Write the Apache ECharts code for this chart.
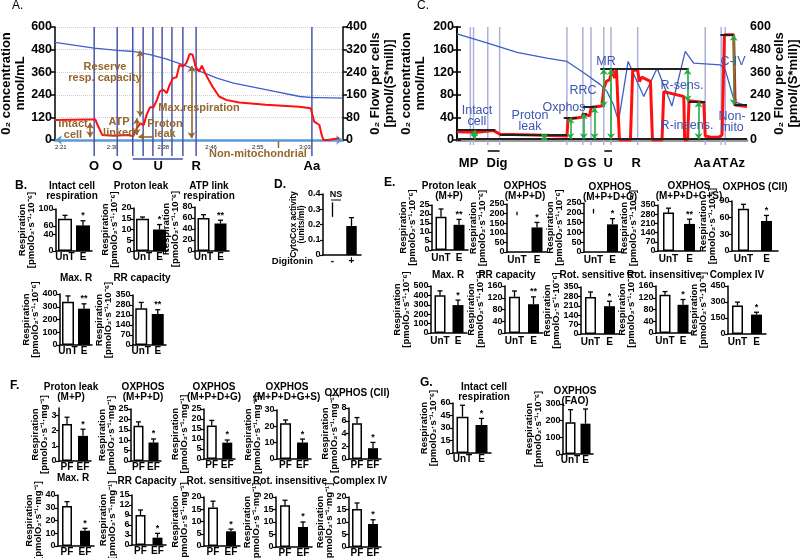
<!DOCTYPE html>
<html>
<head>
<meta charset="utf-8">
<script src="https://cdn.jsdelivr.net/npm/echarts@6/dist/echarts.min.js"></script>
<style>html,body{margin:0;padding:0;background:#fff;}#chart{width:800px;height:558px;}</style>
</head>
<body>
<div id="chart"></div>
<script>
// ================= DATA =================
// Panel A: O2 trace, intact cells (time in minutes since 0:00)
const A_o2Time = [140,146.8,150.8,153.6,156.5,159.4,162.3,165.2,168.1,171,176.8,182.5,184.8,186,190];
const A_o2Conc = [518,488,476,470,453,430,399,364,328,302,266,231,225,225,222];
const A_flowTime = [140,146.2,147,147.4,148.2,150.2,152.5,153.6,154.2,154.8,155.4,155.9,156.5,157.1,157.7,158.2,158.8,159.4,159.9,160.5,161.1,161.6,162.2,162.8,163.4,163.9,164.4,165,165.5,166.2,167.4,168.5,169.7,172,176.6,182.4,184.4,185,185.9,186.3,186.6,187.3,187.6,189.3];
const A_flow = [71,73,73,53,18,15,18,14,41,59,53,89,116,116,142,172,178,166,195,219,222,266,260,272,305,302,260,243,263,231,187,154,142,133,125,118,112,65,53,18,0,0,7,6];
const A_tickTimes = [141,150,158.8,167.1,175.2,183.4];
const A_tickLabels = ['2:21','2:30','2:38','2:46','2:55','3:03'];
const A_eventTimes = [146.8,150.8,153.5,155.3,157,158.6,160.3,162.2,164.5,184.6];
const A_eventLabelTimes = [146.8,150.8,157.9,164.5,184.6];
const A_eventLabels = ['O','O','U','R','Aa'];
const A_uncouplerSpan = [153.5,162.2];
const A_arrows = [[146.1,61,10],[154.2,77,18],[154.8,316,83],[163.7,262,6]];   // [time, from, to] in flow units
const A_leakArrow = [[154.5,12],[157.1,12]];
const A_nonMitoTime = 178.8;
const A_notes = ['Reserve\nresp. capacity','Intact\ncell','ATP\nlinked','Proton\nleak','Max.respiration','Non-mitochondrial'];

// Panel C: O2 trace, permeabilized cells (arbitrary time units)
const C_o2Time = [0,10.3,20.7,31,37.9,41.4,44.8,49.4,51.7,54,55.7,59,64.4,69,74.1,78.7,81.6,90.8,92.5,94.3,95.7,100];
const C_o2Conc = [188,172,155,145,139,127,115,98,86,62,33,139,77,127,60,157,136,133,124,92,68,60];
const C_flowTime = [0,6.9,12.6,14.9,26.4,37.9,38.3,43.1,43.5,45.7,46.3,50,50.6,51.5,52.6,53.6,54.3,55,55.5,56,59.8,60.6,62.3,62.9,63.7,66.7,67.4,70.7,71.3,78.2,78.5,79.5,80,85.1,85.6,87.9,90.2,91.4,92.2,95.4,95.9,100];
const C_flow = [44,41,50,30,27,21,112,121,138,128,174,181,275,311,320,373,329,376,376,0,0,373,369,311,334,311,0,0,257,231,0,0,208,199,21,14,14,27,559,559,186,178];
const C_eventTimes = [4.6,5.7,10.6,14.7,37.9,43.4,46.2,50.6,53.1,62.3,85.6,91.1,92.5];
const C_labelTimes = [4,13.8,38.5,43.1,46.6,52.1,61.8,84.5,90.8,96.6];
const C_labels = ['MP','Dig','D','G','S','U','R','Aa','AT','Az'];
const C_spans = [[10.6,14.7],[50.8,53.4]];
const C_levels = [[0,13.2,53],[14.9,37.9,27],[36.8,41.4,119],[43.1,44.8,142],[43.4,48.3,174],[49.4,79.9,378],[79.9,85.6,204],[90.8,95.4,559],[95.4,100,186],[0,100,4]]; // [from, to, flow level]
const C_arrows = [[6,53,4],[30.1,27,4],[39.1,119,4],[43.7,142,4],[47.4,174,4],[50.6,378,174],[53.1,378,4],[79.5,378,204],[83.3,204,4],[87.9,4,-35],[95.4,559,186]];
const C_notes = ['Intact\ncell','Proton\nleak','Oxphos','RRC','MR','R-sens.','R-insens.','C-IV','Non-\nmito'];

// Panel B
const B_titles = ['Intact cell\nrespiration','Proton leak','ATP link\nrespiration','Max. R','RR capacity'];
const B_groups = ['UnT','E'];
const B_untreated = [77, 15, 60, 340, 258];
const B_untreatedErr = [8, 0.8, 6, 45, 40];
const B_treated = [61, 10, 50, 285, 217];
const B_treatedErr = [11, 2.3, 6, 38, 30];
const B_sig = ['*','*','**','**','**'];
const B_yMax = [100, 20, 80, 400, 350];
const B_yStep = [20, 5, 20, 100, 70];

// Panel D
const D_groups = ['-','+'];
const D_activity = [0, 0.19];
const D_activityErr = [0, 0.055];
const D_minusMark = [0.25, 0.345];
const D_yMax = 0.4, D_yStep = 0.1;

// Panel E
const E_titles = ['Proton leak\n(M+P)','OXPHOS\n(M+P+D)','OXPHOS\n(M+P+D+G)','OXPHOS\n(M+P+D+G+S)','OXPHOS (CII)','Max. R','RR capacity','Rot. sensitive','Rot. insensitive','Complex IV'];
const E_untreated = [18.5, null, null, 292, 76, 402, 123, 276, 130, 267];
const E_untreatedErr = [4.3, 0, 0, 34, 8, 46, 20, 37, 11, 32];
const E_untreatedMark = [null, [192,210], [196,220], null, null, null, null, null, null, null];
const E_treated = [14, 128, 141, 206, 54, 297, 98, 207, 96, 182];
const E_treatedErr = [3, 26, 29, 36, 10, 53, 25, 37, 18, 22];
const E_sig = ['**','*','*','**','*','*','**','*','*','*'];
const E_yMax = [25, 250, 250, 350, 90, 500, 160, 350, 160, 450];
const E_yStep = [5, 50, 50, 70, 30, 100, 40, 70, 40, 150];

// Panel F
const F_titles = ['Proton leak\n(M+P)','OXPHOS\n(M+P+D)','OXPHOS\n(M+P+D+G)','OXPHOS\n(M+P+D+G+S)','OXPHOS (CII)','Max. R','RR Capacity','Rot. sensitive','Rot. insensitive','Complex IV'];
const F_groups = ['PF','EF'];
const F_pf = [2.44, 16.9, 16.8, 21.9, 5.6, 31.4, 9.0, 15.7, 16.7, 15.2];
const F_pfErr = [0.45, 1.9, 2.5, 2.0, 0.9, 3.4, 1.5, 2.6, 2.0, 2.4];
const F_ef = [1.66, 8.9, 8.2, 10.1, 1.7, 12, 2.2, 6.0, 8.0, 9.2];
const F_efErr = [0.44, 1.7, 1.3, 2.1, 0.9, 1.9, 1.3, 0.9, 2.0, 1.7];
const F_sig = ['*','*','*','*','*','*','*','*','*','*'];
const F_yMax = [3.5, 25, 25, 30, 8, 40, 15, 20, 20, 20];
const F_yStep = [1, 5, 5, 10, 2, 10, 3, 5, 5, 5];

// Panel G
const G_titles = ['Intact cell\nrespiration','OXPHOS\n(FAO)'];
const G_untreated = [43.5, 190];
const G_untreatedErr = [13.8, 76];
const G_treated = [33.6, 182];
const G_treatedErr = [7.9, 88];
const G_sig = ['*',''];
const G_yMax = [60, 300];
const G_yStep = [15, 100];

// ================= LAYOUT (positions / sizes) =================
// [left(y-axis x), top(px of max), zero(px of 0), width, barWidth, labelMargin]
const B_layout = [[56,209,251,36,14,1],[134,208,251,34,13,1],[195,207,251,34,12,1],[60,294,345,32,12,1],[133,295,345,33,12,1]];
const B_titleXY = [[72,191],[141,186],[209,191],[76,278],[142,278]];
const D_layout = [323,194,255,38,10.5,1.5];
const E_layout = [[432,205,250,36,11,3],[507,204,252,40,11,3],[584,203,252,38,11,3],[658,205,251,42,11,3],[732,201,251,46,11,3],
                  [431,286,333,36,11,3],[505,286,333,38,11,3],[581,287,334,38,11,3],[656,286,333,36,11,3],[728,286,334,38,11,3]];
const E_titleXY = [[449,191],[525,191],[610,192],[689,191],[755,187],[448,275],[507,275],[592,275],[664,275],[737,275]];
const F_layout = [[59,408,461,32,10,1],[131,409,461,30,10,1],[204,409,459,31,10,1],[277,410,459,34,11,1],[349,408,459,32,10,1],
                  [58,495,546,36,10,1],[132,495,545,34,10,1],[204,497,546,36,10,1],[276,497,547,36,10,1],[349,497,547,32,10,1]];
const F_titleXY = [[71,392],[143,392],[214,392],[287,392],[357,393],[73,478],[147,481],[219,481],[290,481],[360,481]];
const G_layout = [[453,403,453,38,12,1],[563,404,454,30,10,1]];
const G_titleXY = [[484,392],[575,396]];

const FONT = '"Liberation Sans", Arial, Helvetica, sans-serif';
const BROWN = '#94672f';
const CBLUE = '#3a56b0';
const RESP6 = 'Respiration\n[pmolO\u2082\u00b7s\u207b\u00b9\u00b710\u207b\u2076]';
const RESPMG = 'Respiration\n[pmolO\u2082\u00b7s\u207b\u00b9\u00b7mg\u207b\u00b9]';

const grids = [], xAxes = [], yAxes = [], series = [], texts = [];

function txt(x, y, text, size, weight, color, align, lh) {
  texts.push({type:'text', x:x, y:y, z:50, silent:true,
    style:{text:text, fill:color||'#000', fontSize:size, fontWeight:weight||'normal', fontFamily:FONT,
      align:align||'center', verticalAlign:'middle', lineHeight:lh||size+1}});
}
function makeTicks(max, step){ const t=[]; for(let i=0;i*step<=max+1e-9;i++) t.push(Math.round(i*step*1e6)/1e6); return t; }

function barPanel(o) {
  const [left, top, zero, width, bw, lm] = o.lay;
  const gi = grids.length;
  grids.push({left:left, top:top, width:width, height:zero-top, outerBoundsMode:'none'});
  const xi = xAxes.length, yi = yAxes.length;
  xAxes.push({gridIndex:gi, type:'category', data:o.cats,
    axisLine:{show:true, onZero:false, lineStyle:{color:'#000', width:1.5}}, axisTick:{show:false},
    axisLabel:{interval:0, margin:lm, color:'#000', fontFamily:FONT, fontWeight:'bold', fontSize:10},
    splitLine:{show:false}});
  const ticks = makeTicks(o.max, o.step);
  const maxW = Math.max(...ticks.map(v => String(v).replace('.','').length*5 + (String(v).indexOf('.')>=0?2.5:0)));
  yAxes.push({gridIndex:gi, type:'value', min:0, max:o.max, interval:o.step,
    axisLine:{show:true, lineStyle:{color:'#000', width:1.5}},
    axisTick:{show:true, length:3, lineStyle:{color:'#000', width:1.2}, customValues:ticks},
    axisLabel:{customValues:ticks, margin:2.5, color:'#000', fontFamily:FONT, fontWeight:'bold', fontSize:9, showMaxLabel:true, showMinLabel:true},
    splitLine:{show:false},
    name:o.yName, nameLocation:'middle', nameRotate:90, nameGap:maxW+5, nameMoveOverlap:false,
    nameTextStyle:{color:'#000', fontFamily:FONT, fontWeight:'bold', fontSize:o.nameSize||9.5, lineHeight:(o.nameSize||9.5)-0.5}});
  const barData = o.vals.map((v,i) => v==null ? null : {value:v,
    itemStyle: o.fill[i]==='w' ? {color:'#fff', borderColor:'#000', borderWidth:1.5} : {color:'#000', borderWidth:0}});
  series.push({type:'bar', xAxisIndex:xi, yAxisIndex:yi, data:barData, barWidth:bw, silent:true, z:3, animation:false});
  const eb = [];
  o.vals.forEach((v,i) => { if (v!=null && o.errs[i]) eb.push([i, v, v+o.errs[i], 1, i]); });
  (o.marks||[]).forEach(m => { if (m) eb.push([m[0], m[1], m[2], 0, -1]); });
  const sigs = o.sigs;
  series.push({type:'custom', xAxisIndex:xi, yAxisIndex:yi, data:eb, z:4, silent:true, animation:false,
    renderItem:(params, api) => {
      const x = api.value(0), lo = api.value(1), hi = api.value(2), cap = api.value(3), si = api.value(4);
      const p0 = api.coord([x, lo]), p1 = api.coord([x, hi]);
      const ch = [{type:'line', shape:{x1:p0[0], y1:p0[1], x2:p1[0], y2:p1[1]}, style:{stroke:'#000', lineWidth:1.3}}];
      if (cap) ch.push({type:'line', shape:{x1:p1[0]-2.5, y1:p1[1], x2:p1[0]+2.5, y2:p1[1]}, style:{stroke:'#000', lineWidth:1.3}});
      const s = si >= 0 ? (sigs[si]||'') : '';
      if (s) ch.push({type:'text', x:p1[0], y:p1[1]-0.5, style:{text:s, fill:'#000', fontSize:9, fontWeight:'bold', fontFamily:FONT, align:'center', verticalAlign:'bottom'}});
      return {type:'group', children:ch};
    }});
  return {gi, xi, yi};
}

// ---- Panel B ----
B_titles.forEach((t,i) => {
  barPanel({lay:B_layout[i], cats:B_groups, vals:[B_untreated[i], B_treated[i]], errs:[B_untreatedErr[i], B_treatedErr[i]],
    fill:['w','b'], sigs:['', B_sig[i]], max:B_yMax[i], step:B_yStep[i], yName:RESP6});
  txt(B_titleXY[i][0], B_titleXY[i][1], t, 10, 'bold', '#000', 'center', 9.5);
});
// ---- Panel D ----
const dP = barPanel({lay:D_layout, cats:D_groups, vals:D_activity, errs:D_activityErr, fill:['b','b'], sigs:['',''],
  marks:[[0, D_minusMark[0], D_minusMark[1]]], max:D_yMax, step:D_yStep, yName:'CytoCox activity\n(units/ml)', nameSize:8.5});
txt(313, 261, 'Digitonin', 9.5, 'bold', '#000', 'right');
txt(336, 195, 'NS', 9, 'bold', '#000', 'center');
// ---- Panel E ----
E_titles.forEach((t,i) => {
  barPanel({lay:E_layout[i], cats:B_groups, vals:[E_untreated[i], E_treated[i]], errs:[E_untreatedErr[i], E_treatedErr[i]],
    fill:['w','b'], sigs:['', E_sig[i]], marks: E_untreatedMark[i] ? [[0, E_untreatedMark[i][0], E_untreatedMark[i][1]]] : [],
    max:E_yMax[i], step:E_yStep[i], yName:RESP6});
  txt(E_titleXY[i][0], E_titleXY[i][1], t, 10, 'bold', '#000', 'center', 9.5);
});
// ---- Panel F ----
F_titles.forEach((t,i) => {
  barPanel({lay:F_layout[i], cats:F_groups, vals:[F_pf[i], F_ef[i]], errs:[F_pfErr[i], F_efErr[i]],
    fill:['w','b'], sigs:['', F_sig[i]], max:F_yMax[i], step:F_yStep[i], yName:RESPMG});
  txt(F_titleXY[i][0], F_titleXY[i][1], t, 10, 'bold', '#000', 'center', 9.5);
});
// ---- Panel G ----
G_titles.forEach((t,i) => {
  barPanel({lay:G_layout[i], cats:B_groups, vals:[G_untreated[i], G_treated[i]], errs:[G_untreatedErr[i], G_treatedErr[i]],
    fill:['w','b'], sigs:['', G_sig[i]], max:G_yMax[i], step:G_yStep[i], yName:RESP6});
  txt(G_titleXY[i][0], G_titleXY[i][1], t, 10, 'bold', '#000', 'center', 9.5);
});

// ---- Panel A ----
function axisName(){ return {color:'#000', fontFamily:FONT, fontWeight:'bold', fontSize:13, lineHeight:14}; }
function valAxisLabel(){ return {color:'#000', fontFamily:FONT, fontWeight:'bold', fontSize:12.5, margin:3}; }
const gA = grids.length;
grids.push({left:55, top:27, width:288, height:113, outerBoundsMode:'none'});
const xA = xAxes.length;
xAxes.push({gridIndex:gA, type:'value', min:140, max:190,
  axisLine:{show:true, onZero:false, lineStyle:{color:'#5b9bd5', width:2.5}, symbol:['arrow','arrow'], symbolSize:[7,7]},
  axisTick:{show:false}, splitLine:{show:false},
  axisLabel:{customValues:A_tickTimes, formatter:(v,i)=>{const k=A_tickTimes.indexOf(v); return A_tickLabels[k>=0?k:i]||'';}, fontSize:6, color:'#222', margin:4, fontFamily:FONT}});
const xAev = xAxes.length;
xAxes.push({gridIndex:gA, type:'value', min:140, max:190, position:'bottom', offset:12,
  axisLine:{show:false}, axisTick:{show:false}, splitLine:{show:false},
  axisLabel:{customValues:A_eventLabelTimes, formatter:(v,i)=>{const k=A_eventLabelTimes.indexOf(v); return A_eventLabels[k>=0?k:i]||'';}, fontSize:13, fontWeight:'bold', color:'#000', margin:8, fontFamily:FONT}});
const yAL = yAxes.length;
yAxes.push({gridIndex:gA, type:'value', position:'left', min:0, max:600, interval:120,
  name:'0\u2082 concentration\nnmol/mL', nameLocation:'middle', nameRotate:90, nameGap:28, nameMoveOverlap:false, nameTextStyle:axisName(),
  axisLine:{show:true, lineStyle:{color:'#000', width:1.5}}, axisTick:{show:true, length:4, lineStyle:{color:'#000', width:1.5}},
  axisLabel:valAxisLabel(), splitLine:{show:true, lineStyle:{color:'#cfcfcf', type:'dotted', width:1}}});
const yAR = yAxes.length;
yAxes.push({gridIndex:gA, type:'value', position:'right', min:0, max:400, interval:80,
  name:'0\u2082 Flow per cells\n[pmol/(S*mill)]', nameLocation:'middle', nameRotate:90, nameGap:25, nameMoveOverlap:false, nameTextStyle:axisName(),
  axisLine:{show:true, lineStyle:{color:'#000', width:1.5}}, axisTick:{show:true, length:4, lineStyle:{color:'#000', width:1.5}},
  axisLabel:valAxisLabel(), splitLine:{show:false}});
series.push({type:'line', xAxisIndex:xA, yAxisIndex:yAL, data:A_o2Time.map((t,i)=>[t, A_o2Conc[i]]),
  symbol:'none', lineStyle:{color:'#3f5fcf', width:1.3}, z:3, silent:true, animation:false});
const A_ml = A_arrows.map(a => [{coord:[a[0], a[1]]}, {coord:[a[0], a[2]]}]);
A_ml.push([{coord:A_leakArrow[0], symbol:'arrow'}, {coord:A_leakArrow[1], symbol:'none'}]);
series.push({type:'line', xAxisIndex:xA, yAxisIndex:yAR, data:A_flowTime.map((t,i)=>[t, A_flow[i]]),
  symbol:'none', lineStyle:{color:'#ff1010', width:2}, z:4, silent:true, animation:false,
  markLine:{silent:true, animation:false, symbol:['arrow','arrow'], symbolSize:6, label:{show:false},
    lineStyle:{color:BROWN, width:1.6, type:'solid'}, data:A_ml}});
txt(105, 72.5, A_notes[0], 11, 'bold', BROWN, 'center', 11);
txt(73, 129.5, A_notes[1], 11, 'bold', BROWN, 'center', 11);
txt(119, 127, A_notes[2], 11, 'bold', BROWN, 'center', 11);
txt(165, 128.5, A_notes[3], 11, 'bold', BROWN, 'center', 10);
txt(199, 108, A_notes[4], 11, 'bold', BROWN, 'center');
txt(258, 154, A_notes[5], 11, 'bold', BROWN, 'center');

// ---- Panel C ----
const gC = grids.length;
grids.push({left:457, top:27, width:290, height:113, outerBoundsMode:'none'});
const xC = xAxes.length;
xAxes.push({gridIndex:gC, type:'value', min:0, max:100,
  axisLine:{show:true, onZero:false, lineStyle:{color:'#9a9a9a', width:3}}, axisTick:{show:false}, axisLabel:{show:false}, splitLine:{show:false}});
const xCev = xAxes.length;
xAxes.push({gridIndex:gC, type:'value', min:0, max:100, position:'bottom', offset:9,
  axisLine:{show:false}, axisTick:{show:false}, splitLine:{show:false},
  axisLabel:{customValues:C_labelTimes, formatter:(v,i)=>{const k=C_labelTimes.indexOf(v); return C_labels[k>=0?k:i]||'';}, fontSize:13, fontWeight:'bold', color:'#000', margin:8, fontFamily:FONT}});
const yCL = yAxes.length;
yAxes.push({gridIndex:gC, type:'value', position:'left', min:0, max:200, interval:40,
  name:'0\u2082 concentration\nnmol/mL', nameLocation:'middle', nameRotate:90, nameGap:30, nameMoveOverlap:false, nameTextStyle:axisName(),
  axisLine:{show:true, lineStyle:{color:'#000', width:1.5}}, axisTick:{show:true, length:4, lineStyle:{color:'#000', width:1.5}},
  axisLabel:valAxisLabel(), splitLine:{show:false}});
const yCR = yAxes.length;
yAxes.push({gridIndex:gC, type:'value', position:'right', min:0, max:600, interval:120,
  name:'0\u2082 Flow per cells\n[pmol/(S*mill)]', nameLocation:'middle', nameRotate:90, nameGap:25, nameMoveOverlap:false, nameTextStyle:axisName(),
  axisLine:{show:true, lineStyle:{color:'#000', width:1.5}}, axisTick:{show:true, length:4, lineStyle:{color:'#000', width:1.5}},
  axisLabel:valAxisLabel(), splitLine:{show:false}});
series.push({type:'line', xAxisIndex:xC, yAxisIndex:yCL, data:C_o2Time.map((t,i)=>[t, C_o2Conc[i]]),
  symbol:'none', lineStyle:{color:'#3b5fc8', width:1.3}, z:3, silent:true, animation:false});
const C_ml = [];
C_levels.forEach(l => C_ml.push([{coord:[l[0], l[2]], symbol:'none', lineStyle:{color:'#222', width:2, type:'solid'}}, {coord:[l[1], l[2]], symbol:'none'}]));
C_arrows.forEach(a => C_ml.push([{coord:[a[0], a[1]], symbol:'arrow', symbolSize:6, lineStyle:{color:'#1fae45', width:1.6, type:'solid'}}, {coord:[a[0], a[2]], symbol:'arrow', symbolSize:6}]));
series.push({type:'line', xAxisIndex:xC, yAxisIndex:yCR, data:C_flowTime.map((t,i)=>[t, C_flow[i]]),
  symbol:'none', lineStyle:{color:'#ff1010', width:3}, z:4, silent:true, animation:false,
  markLine:{silent:true, animation:false, label:{show:false}, data:C_ml}});
const C_noteXY = [[477,116],[530,121.5],[564,108],[583,91],[606,62],[682,86],[687,126],[733,62],[732,122]];
C_notes.forEach((t,i) => txt(C_noteXY[i][0], C_noteXY[i][1], t, 12.5, 'normal', CBLUE, 'center', 11));

// ---- Panel labels ----
txt(12, 6, 'A.', 12, 'normal', '#000', 'left');
txt(417, 6, 'C.', 12, 'normal', '#000', 'left');
txt(15, 186, 'B.', 12, 'bold', '#000', 'left');
txt(274, 185, 'D.', 12, 'bold', '#000', 'left');
txt(384, 183, 'E.', 12, 'bold', '#000', 'left');
txt(10, 386, 'F.', 12, 'bold', '#000', 'left');
txt(420, 383, 'G.', 12, 'bold', '#000', 'left');

const option = {
  animation:false,
  textStyle:{fontFamily:FONT},
  grid:grids, xAxis:xAxes, yAxis:yAxes, series:series
};
const chart = echarts.init(document.getElementById('chart'), null, {renderer:'canvas'});
chart.setOption(option);

// overlay lines positioned through the axes' scales
const px = (xi, v) => chart.convertToPixel({xAxisIndex:xi}, v);
const g = texts.slice();
A_eventTimes.forEach(t => { const x = px(xA, t); g.push({type:'line', z:1, silent:true, shape:{x1:x, y1:27, x2:x, y2:156}, style:{stroke:'#4a55a8', lineWidth:1.5}}); });
{ const x1 = px(xA, A_uncouplerSpan[0]), x2 = px(xA, A_uncouplerSpan[1]);
  g.push({type:'line', z:5, silent:true, shape:{x1:x1, y1:159, x2:x2, y2:159}, style:{stroke:'#3b4fb0', lineWidth:1.5}}); }
{ const x = px(xA, A_nonMitoTime); g.push({type:'line', z:5, silent:true, shape:{x1:x, y1:141, x2:x, y2:148}, style:{stroke:BROWN, lineWidth:1.5}}); }
C_eventTimes.forEach(t => { const x = px(xC, t); g.push({type:'line', z:1, silent:true, shape:{x1:x, y1:27, x2:x, y2:145}, style:{stroke:'#aeb0dc', lineWidth:1.5}}); });
C_spans.forEach(s => { const x1 = px(xC, s[0]), x2 = px(xC, s[1]);
  g.push({type:'line', z:5, silent:true, shape:{x1:x1, y1:151, x2:x2, y2:151}, style:{stroke:'#000', lineWidth:1.5}}); });
g.push({type:'line', z:5, silent:true, shape:{x1:331, y1:200, x2:341, y2:200}, style:{stroke:'#000', lineWidth:1}});
chart.setOption({graphic:g});
</script>
</body>
</html>
